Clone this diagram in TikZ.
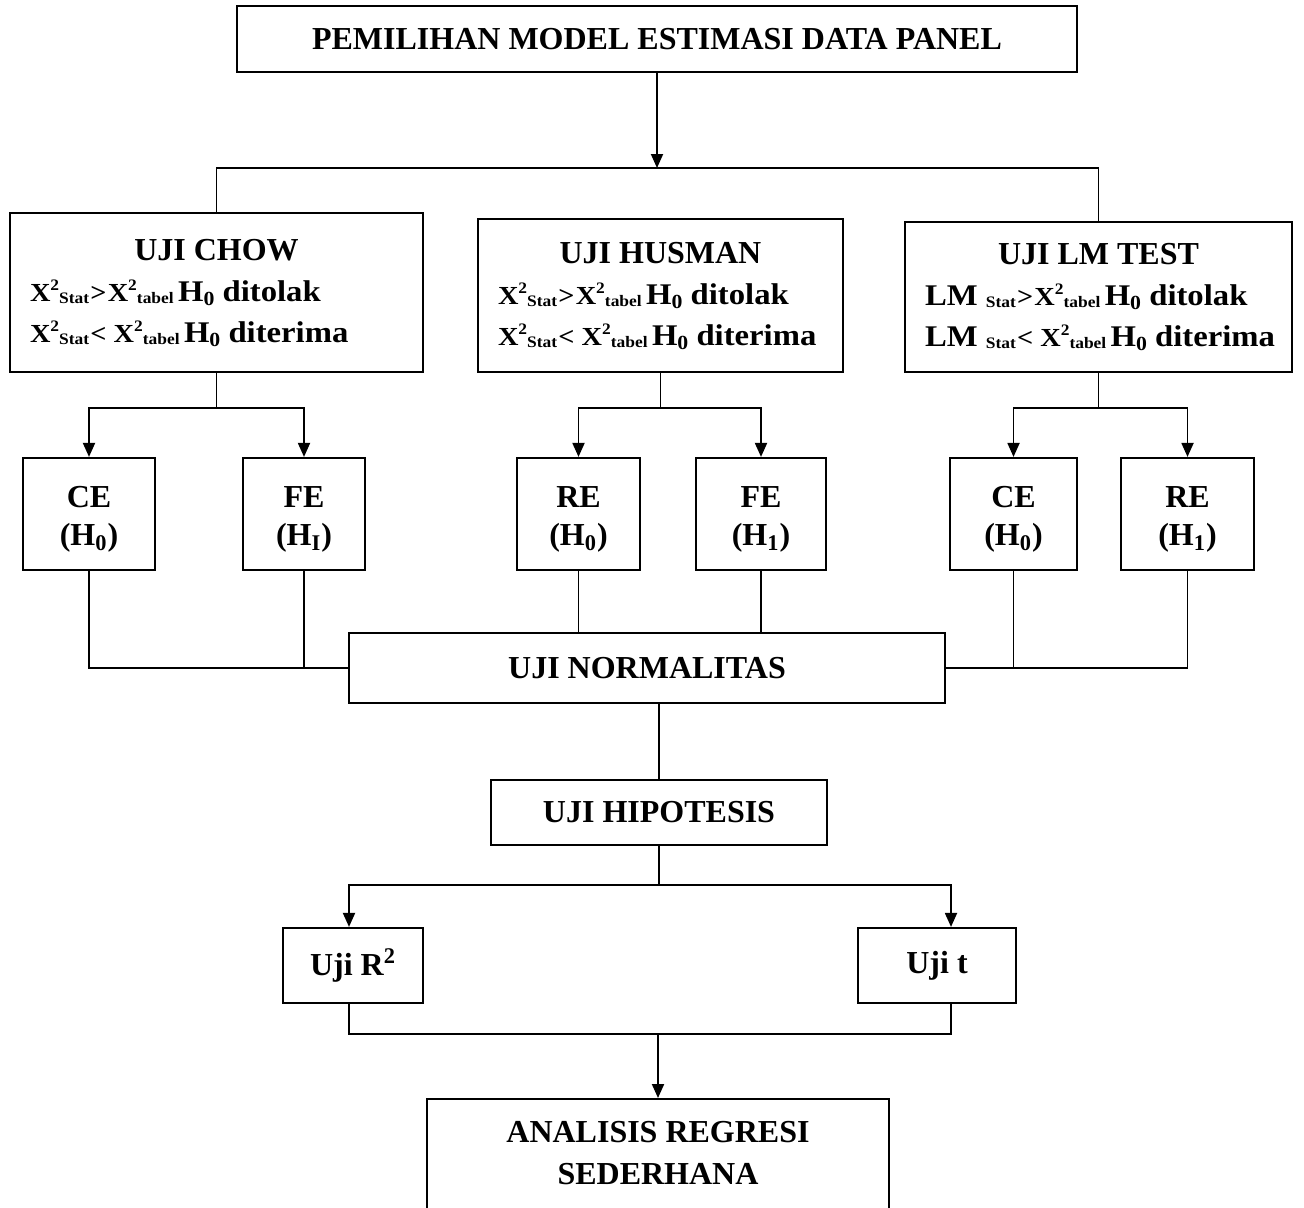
\documentclass[tikz,border=0pt]{standalone}
\usepackage{fontspec}
\setmainfont{Liberation Serif}
\newfontfamily\wf[FakeStretch=1.09]{Liberation Serif}
\usetikzlibrary{arrows.meta}
\newcommand{\fX}{\fontsize{13}{13}\selectfont}
\newcommand{\fH}{\fontsize{15}{15}\selectfont}
\newcommand{\fS}{\fontsize{8}{8}\selectfont}
\newcommand{\Xsq}[1]{{\fX X}\raisebox{5.5pt}{\fS 2}\raisebox{-1pt}{\fS #1}}
\newcommand{\Hz}{{\fH H}\raisebox{-2pt}{\fontsize{10}{10}\selectfont 0}}
\newcommand{\gt}{\kern0.6pt{\fX >}\kern0.6pt}
\newcommand{\lt}{\kern0.6pt{\fX <}{\fX\ }}
\newcommand{\nsp}{\spaceskip=0pt\xspaceskip=0pt}
\begin{document}
\begin{tikzpicture}[x=0.5pt,y=-0.5pt,
  box/.style={draw, line width=1.1pt, inner sep=0pt, align=center,
    font=\bfseries\fontsize{16}{21}\selectfont},
  tbox/.style={box, align=left, font=\bfseries\fontsize{16}{20.5}\selectfont},
  sbox/.style={box, minimum height=56pt, font=\bfseries\fontsize{16}{19}\selectfont},
  conn/.style={line width=0.95pt},
  thinconn/.style={line width=0.6pt},
  arr/.style={conn, -{Triangle[length=7pt,width=6pt]}}]
\useasboundingbox (0,0) rectangle (1304,1207);

% main boxes
\node[box, minimum width=420pt, minimum height=33pt] (top) at (657,39)
  {PEMILIHAN MODEL ESTIMASI DATA PANEL};

\node[tbox, minimum width=206.5pt, minimum height=79.5pt, text width=186.5pt] (chow) at (216.5,292.5)
  {\nsp\makebox[\linewidth]{UJI CHOW}\\
   \mbox{\wf\bfseries\Xsq{Stat}\gt\Xsq{tabel}{\fS\ }\Hz{\fH\ ditolak}}\\
   \mbox{\wf\bfseries\Xsq{Stat}\lt\Xsq{tabel}{\fS\ }\Hz{\fH\ diterima}}};

\node[tbox, minimum width=182.5pt, minimum height=76.5pt, text width=162.5pt] (hus) at (660.5,295.5)
  {\nsp\makebox[\linewidth]{UJI HUSMAN}\\
   \mbox{\wf\bfseries\Xsq{Stat}\gt\Xsq{tabel}{\fS\ }\Hz{\fH\ ditolak}}\\
   \mbox{\wf\bfseries\Xsq{Stat}\lt\Xsq{tabel}{\fS\ }\Hz{\fH\ diterima}}};

\node[tbox, minimum width=193.5pt, minimum height=75pt, text width=173.5pt] (lm) at (1098.5,297)
  {\nsp\makebox[\linewidth]{UJI LM TEST}\\
   \mbox{\wf\bfseries{\fH LM\ }\raisebox{-1pt}{\fS Stat}\gt\Xsq{tabel}{\fS\ }\Hz{\fH\ ditolak}}\\
   \mbox{\wf\bfseries{\fH LM\ }\raisebox{-1pt}{\fS Stat}\lt\Xsq{tabel}{\fS\ }\Hz{\fH\ diterima}}};

% small boxes
\node[sbox, minimum width=66pt]   (ce1) at (89,514)     {\rule{0pt}{16pt}CE\\(H\textsubscript{0})};
\node[sbox, minimum width=61pt]   (fe1) at (304,514)    {\rule{0pt}{16pt}FE\\(H\textsubscript{I})};
\node[sbox, minimum width=61.5pt] (re2) at (578.5,514)  {\rule{0pt}{16pt}RE\\(H\textsubscript{0})};
\node[sbox, minimum width=65pt]   (fe2) at (761,514)    {\rule{0pt}{16pt}FE\\(H\textsubscript{1})};
\node[sbox, minimum width=63.5pt] (ce3) at (1013.5,514) {\rule{0pt}{16pt}CE\\(H\textsubscript{0})};
\node[sbox, minimum width=66.5pt] (re3) at (1187.5,514) {\rule{0pt}{16pt}RE\\(H\textsubscript{1})};

\node[box, minimum width=298pt, minimum height=35pt] (norm) at (647,668) {UJI NORMALITAS};
\node[box, minimum width=168pt, minimum height=32.5pt] (hip) at (659,812.5) {UJI HIPOTESIS};
\node[box, minimum width=70pt, minimum height=37.5pt] (r2) at (353,965.5) {Uji R\textsuperscript{2}};
\node[box, minimum width=79pt, minimum height=37.5pt] (ut) at (937,965.5) {Uji t};
\node[box, anchor=north, minimum width=231pt, inner ysep=11pt, text depth=70pt] (anal) at (658,1098)
  {ANALISIS REGRESI\\SEDERHANA};

% connectors
\coordinate (j1) at (657,168);
\draw[arr] (top.south) -- (top.south |- j1);
\draw[conn] (chow.north) |- (j1) -| (lm.north);

\coordinate (b1) at (216.5,408);
\coordinate (b2) at (660.5,408);
\coordinate (b3) at (1098.5,408);
\draw[conn] (chow.south) -- (b1);
\draw[arr] (b1) -| (ce1.north);
\draw[arr] (b1) -| (fe1.north);
\draw[conn] (hus.south) -- (b2);
\draw[arr] (b2) -| (re2.north);
\draw[arr] (b2) -| (fe2.north);
\draw[conn] (lm.south) -- (b3);
\draw[arr] (b3) -| (ce3.north);
\draw[arr] (b3) -| (re3.north);

\draw[thinconn] (ce1.south) |- (norm.west);
\draw[thinconn] (fe1.south) -- (fe1.south |- norm.west);
\draw[thinconn] (re2.south) -- (re2.south |- norm.north);
\draw[thinconn] (fe2.south) -- (fe2.south |- norm.north);
\draw[thinconn] (re3.south) |- (norm.east);
\draw[thinconn] (ce3.south) -- (ce3.south |- norm.east);

\draw[conn] (hip.north |- norm.south) -- (hip.north);

\coordinate (b4) at (659,885);
\draw[conn] (hip.south) -- (b4);
\draw[arr] (b4) -| ([xshift=-2pt]r2.north);
\draw[arr] (b4) -| ([xshift=7pt]ut.north);

\coordinate (b5) at (658,1034);
\draw[conn] ([xshift=-2pt]r2.south) |- (b5) -| ([xshift=7pt]ut.south);
\draw[arr] (b5) -- (anal.north);
\end{tikzpicture}
\end{document}
